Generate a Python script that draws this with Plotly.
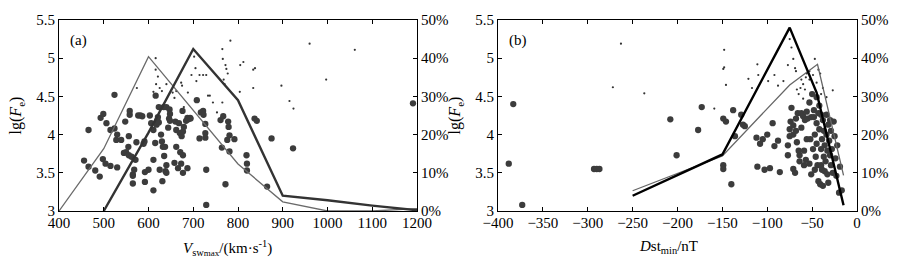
import plotly.graph_objects as go

# ---------------- data ----------------
# Panel (a): Vsw_max vs lg(Fe)
a_big_x = [456,466,466,481,491,493,499,498,504,506,515,515,524,524,528,530,530,539,545,548,550,555,556,558,558,556,562,565,565,565,568,571,573,577,582,586,589,591,592,592,603,600,606,611,611,611,615,616,618,620,621,623,623,625,628,630,631,632,634,635,637,638,640,640,640,644,646,647,648,648,658,660,662,662,666,668,670,671,673,674,676,677,677,677,679,684,687,687,689,693,694,708,714,717,722,723,727,727,727,729,729,761,764,767,772,776,778,779,781,781,792,820,820,819,837,842,865,875,923,1191]
a_big_y = [3.66,4.06,3.58,3.53,3.45,4.22,4.27,3.68,3.62,4.15,3.59,4.06,4.08,4.52,3.93,4.0,3.57,3.93,3.76,4.17,3.77,3.84,3.98,4.31,4.26,3.73,3.71,3.46,3.36,3.48,3.54,3.67,3.9,4.25,4.25,4.24,3.88,3.91,3.51,3.38,4.25,3.54,4.15,3.27,4.06,3.67,3.89,4.51,4.13,4.19,4.23,4.16,4.36,3.54,4.0,3.91,3.39,3.84,4.36,3.72,3.84,3.52,4.36,3.6,3.5,4.09,4.21,4.33,4.27,4.18,3.63,4.17,4.06,3.84,3.56,4.15,4.02,3.77,3.62,3.98,4.31,4.04,3.73,3.5,4.1,4.18,4.22,3.56,4.2,4.22,4.21,4.45,3.95,4.29,4.31,4.26,4.14,4.02,3.96,3.54,3.08,4.19,3.83,4.24,3.35,3.93,4.17,4.1,3.99,3.78,3.94,3.62,3.53,3.73,4.21,4.18,3.32,3.95,3.82,4.41]
a_small_x = [574,616,617,611,616,621,625,630,640,654,658,662,673,675,679,688,696,702,705,707,714,722,729,733,737,744,753,765,766,768,770,772,774,777,765,783,805,812,804,834,838,834,897,915,924,960,997,1061]
a_small_y = [4.61,5.0,4.66,4.56,4.85,4.76,4.61,4.57,4.66,4.55,4.48,4.57,4.68,4.64,4.36,4.55,4.78,5.02,4.87,4.7,4.78,4.78,4.78,4.51,4.51,4.42,4.29,5.12,4.99,4.72,4.66,4.91,4.86,4.8,4.42,5.23,4.91,4.95,4.56,4.85,4.87,4.61,4.64,4.44,4.34,5.19,4.72,5.11]
a_line_x = [400,500,600,700,800,900,1000,1100,1200]
a_thin_pct = [0,16.3,40.4,26.5,12.3,2.4,0,0,0.6]
a_thick_x = [500,600,700,800,900,1000,1100,1200]
a_thick_pct = [0,20.5,42.4,29,4,2.8,1.4,0.2]

# Panel (b): Dst_min vs lg(Fe)
b_big_x = [-383,-388,-373,-293,-290,-287,-208,-201,-177,-173,-149,-149,-149,-146,-140,-138,-136,-129,-127,-125,-112,-111,-108,-105,-103,-100,-97,-94,-88,-86,-92,-77,-77,-75,-75,-74,-73,-71,-71,-71,-69,-68,-68,-67,-66,-65,-64,-64,-62,-62,-60,-59,-59,-58,-57,-56,-56,-55,-53,-53,-52,-51,-51,-50,-49,-48,-48,-47,-47,-46,-45,-45,-45,-44,-43,-43,-42,-42,-41,-40,-40,-40,-39,-39,-38,-38,-37,-37,-36,-36,-35,-34,-34,-33,-33,-32,-32,-31,-30,-30,-29,-29,-28,-27,-26,-25,-24,-23,-22,-20,-17,-19]
b_big_y = [4.40,3.62,3.08,3.55,3.55,3.55,4.20,3.73,4.06,4.36,3.60,3.55,4.21,4.17,3.35,4.32,3.98,4.26,4.13,4.11,3.96,3.58,3.88,3.94,3.54,4.0,3.56,4.15,3.92,3.51,3.85,3.86,3.73,4.07,3.98,4.17,4.35,4.12,4.0,3.55,3.5,4.21,4.05,3.9,4.28,3.79,3.73,3.65,4.09,4.28,4.24,3.79,3.6,4.19,3.67,4.3,3.94,4.21,3.62,4.42,3.94,4.23,3.48,4.53,3.81,4.32,4.23,4.0,3.54,3.71,4.49,4.15,3.88,3.6,3.39,4.28,4.38,4.07,3.35,3.81,3.6,4.26,3.54,3.94,4.19,3.33,3.71,4.05,3.86,3.52,3.65,4.26,4.0,3.79,3.48,4.13,3.37,3.92,3.73,4.19,3.6,4.05,3.81,3.5,4.17,3.98,3.69,3.46,3.86,3.24,3.27,3.58]
b_small_x = [-263,-272,-237,-159,-148,-148,-149,-146,-121,-117,-111,-110,-99,-92,-88,-82,-77,-75,-73,-71,-69,-68,-67,-65,-63,-62,-60,-60,-58,-57,-56,-53,-53,-49,-47,-45,-43,-41,-40,-38,-34,-27]
b_small_y = [5.19,4.62,4.54,4.34,5.11,4.88,4.86,4.65,4.73,4.61,4.92,4.78,4.70,4.78,4.64,4.70,4.91,5.25,5.14,4.99,4.87,4.83,4.59,4.53,4.61,4.72,4.66,4.47,4.59,4.75,4.80,4.83,4.72,4.78,4.99,4.68,4.85,4.80,4.53,4.61,4.49,4.58]
b_thick_x = [-250,-150,-75,-45,-15]
b_thick_pct = [4,14.8,48,31,1.5]
b_thin_x = [-250,-150,-75,-44,-15]
b_thin_pct = [5.3,14.4,33,38.4,9.3]

y_ticks = [3,3.5,4,4.5,5,5.5]
pct_ticks = [0,10,20,30,40,50]
pct_labels = ["0%","10%","20%","30%","40%","50%"]

# ---------------- figure ----------------
FONT = "Liberation Serif, Times New Roman, serif"
big_col = "#3c3c3c"
fig = go.Figure()

def add_panel(xa, ya, ya2, bx, by, sx, sy, lines):
    fig.add_trace(go.Scatter(x=bx, y=by, mode="markers", xaxis=xa, yaxis=ya,
                             marker=dict(size=6.3, color=big_col), showlegend=False))
    fig.add_trace(go.Scatter(x=sx, y=sy, mode="markers", xaxis=xa, yaxis=ya,
                             marker=dict(size=2.2, color="#333333"), showlegend=False))
    for lx, ly, col, w in lines:
        fig.add_trace(go.Scatter(x=lx, y=ly, mode="lines", xaxis=xa, yaxis=ya2,
                                 line=dict(color=col, width=w), showlegend=False))

add_panel("x", "y", "y3", a_big_x, a_big_y, a_small_x, a_small_y,
          [(a_line_x, a_thin_pct, "#6a6a6a", 1.3), (a_thick_x, a_thick_pct, "#333333", 2.4)])
add_panel("x2", "y2", "y4", b_big_x, b_big_y, b_small_x, b_small_y,
          [(b_thin_x, b_thin_pct, "#666666", 1.3), (b_thick_x, b_thick_pct, "#000000", 2.4)])

axis_common = dict(showline=True, linecolor="black", linewidth=1, ticks="inside",
                   ticklen=4, tickcolor="black", showgrid=False, zeroline=False,
                   tickfont=dict(family=FONT, size=15, color="black"))

dom_a = [0, 358/798]
dom_b = [439/798, 1]

fig.update_layout(
    width=902, height=257,
    margin=dict(l=59, r=45, t=13, b=46),
    paper_bgcolor="white", plot_bgcolor="white",
    font=dict(family=FONT, size=15, color="black"),
    xaxis=dict(domain=dom_a, range=[400,1200], dtick=100, mirror="ticks", anchor="y",
               ticklabelstandoff=-2, **axis_common),
    xaxis2=dict(domain=dom_b, range=[-400,0], dtick=50, mirror="ticks", anchor="y2",
                ticklabelstandoff=-2, **axis_common),
    yaxis=dict(domain=[0,1], range=[3,5.5], tickvals=y_ticks, anchor="x",
               title=dict(text="lg(<i>F</i><sub>e</sub>)", standoff=10,
                          font=dict(family=FONT, size=16)), **axis_common),
    yaxis2=dict(domain=[0,1], range=[3,5.5], tickvals=y_ticks, anchor="x2",
                title=dict(text="lg(<i>F</i><sub>e</sub>)", standoff=10,
                           font=dict(family=FONT, size=16)), **axis_common),
    yaxis3=dict(range=[0,50], tickvals=pct_ticks, ticktext=pct_labels, overlaying="y",
                side="right", anchor="x", **axis_common),
    yaxis4=dict(range=[0,50], tickvals=pct_ticks, ticktext=pct_labels, overlaying="y2",
                side="right", anchor="x2", **axis_common),
)

# x-axis titles placed as annotations below the tick labels
fig.add_annotation(text="<i>V</i><sub>sw<span style='font-size:9px'>max</span></sub>/(km·s<sup>-1</sup>)",
                   xref="x domain", yref="paper", x=0.47, y=-0.13,
                   yanchor="top", showarrow=False, font=dict(family=FONT, size=15))
fig.add_annotation(text="<i>D</i>st<sub>min</sub>/nT",
                   xref="x2 domain", yref="paper", x=0.475, y=-0.13,
                   yanchor="top", showarrow=False, font=dict(family=FONT, size=15))

fig.add_annotation(text="(a)", xref="x domain", yref="y domain", x=0.025, y=0.95,
                   xanchor="left", yanchor="top", showarrow=False, font=dict(family=FONT, size=15))
fig.add_annotation(text="(b)", xref="x2 domain", yref="y2 domain", x=0.025, y=0.95,
                   xanchor="left", yanchor="top", showarrow=False, font=dict(family=FONT, size=15))

fig.write_html("out.html", config={"displayModeBar": False},
               post_script="document.body.style.margin='0';document.body.style.overflow='hidden';")
